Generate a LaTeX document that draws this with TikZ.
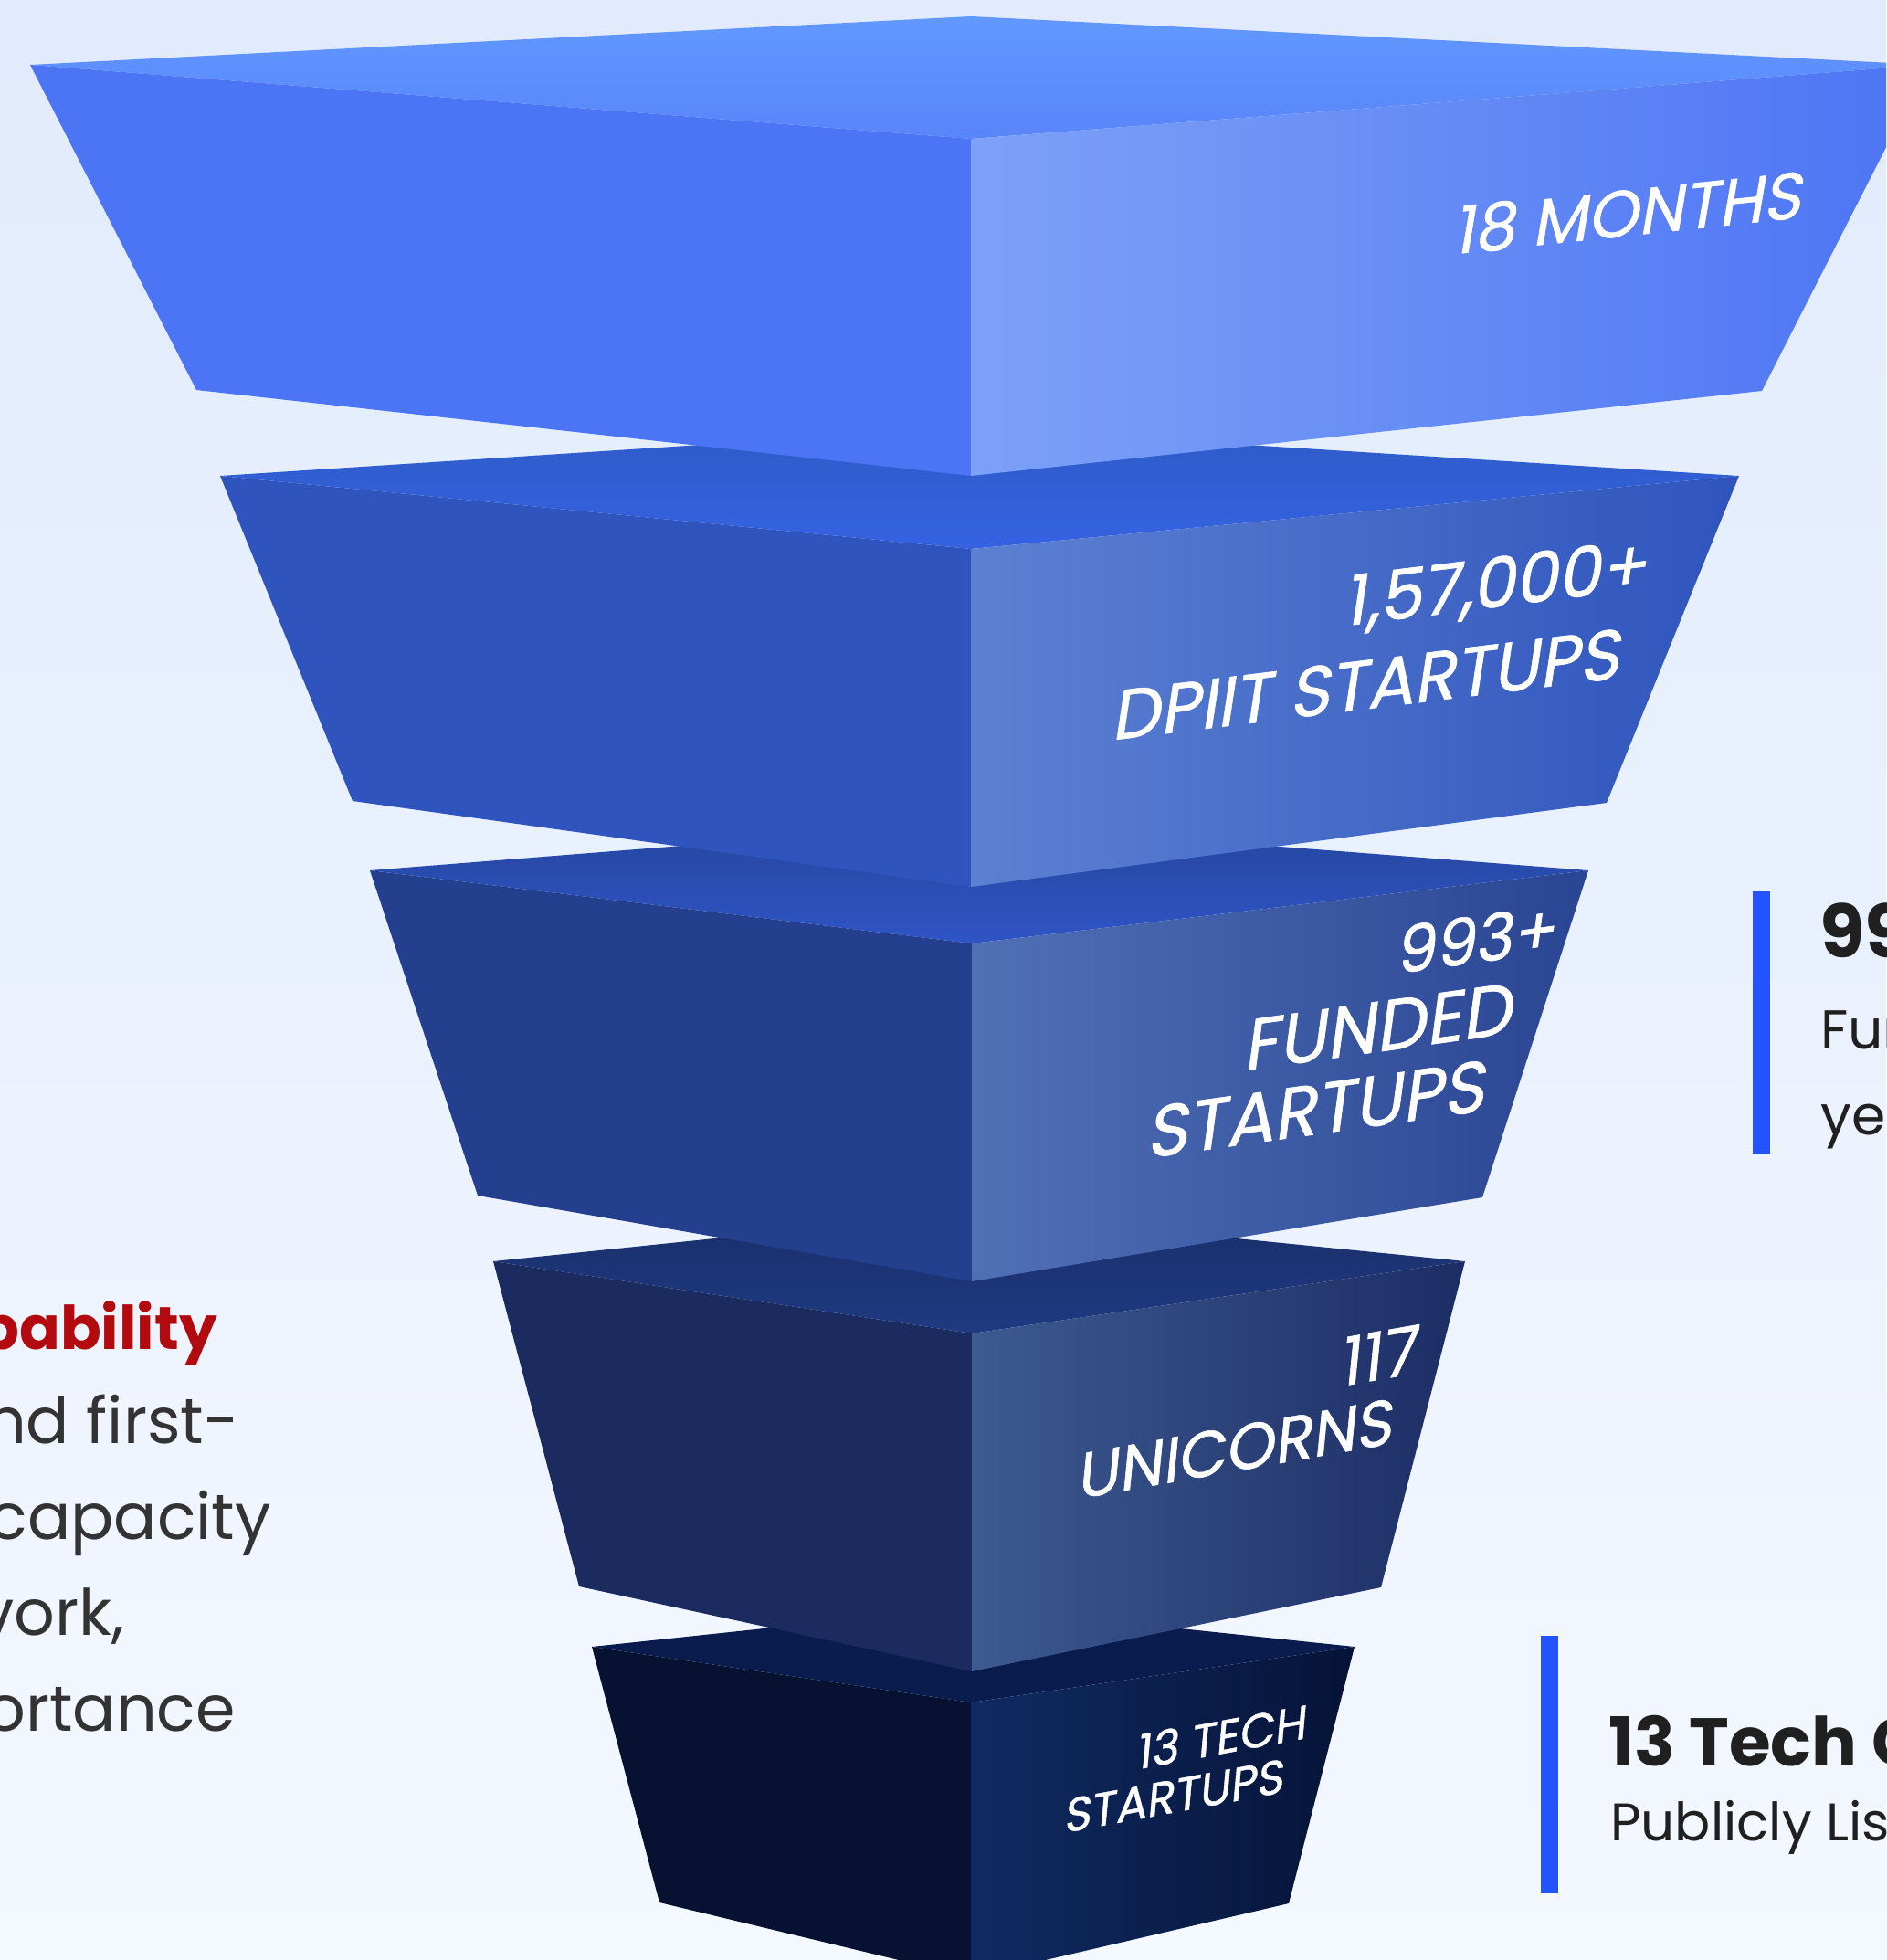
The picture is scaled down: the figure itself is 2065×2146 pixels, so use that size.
\documentclass[tikz,border=0pt]{standalone}
\usepackage{fontspec}
\setmainfont{Poppins}
\newfontfamily\labelfont[FakeSlant=0.28,FakeBold=0.8]{Poppins}
\usepackage{tikz}

\definecolor{bgtop}{HTML}{E1EBFD}
\definecolor{bgbot}{HTML}{F4F8FF}
\definecolor{oneTa}{HTML}{6198FF}
\definecolor{oneTb}{HTML}{5985FA}
\definecolor{oneL}{HTML}{4B75F5}
\definecolor{oneRa}{HTML}{7DA1F7}
\definecolor{oneRb}{HTML}{4C74F4}
\definecolor{twoTa}{HTML}{2D5CC7}
\definecolor{twoTb}{HTML}{3662E2}
\definecolor{twoL}{HTML}{2F54BD}
\definecolor{twoRa}{HTML}{5C81D2}
\definecolor{twoRb}{HTML}{2F54BD}
\definecolor{thrTa}{HTML}{24469E}
\definecolor{thrTb}{HTML}{2F55C6}
\definecolor{thrL}{HTML}{233F8E}
\definecolor{thrRa}{HTML}{5070B6}
\definecolor{thrRb}{HTML}{2A4593}
\definecolor{fouTa}{HTML}{1A2F6A}
\definecolor{fouTb}{HTML}{1F3A82}
\definecolor{fouL}{HTML}{1B2B60}
\definecolor{fouRa}{HTML}{3D5A91}
\definecolor{fouRb}{HTML}{1C2D64}
\definecolor{fivT}{HTML}{0A1C4E}
\definecolor{fivL}{HTML}{071232}
\definecolor{fivRa}{HTML}{102B63}
\definecolor{fivRb}{HTML}{061337}
\definecolor{barblue}{HTML}{2352FF}
\definecolor{capred}{HTML}{B20A0E}
\definecolor{inkgray}{HTML}{333333}
\definecolor{inkdark}{HTML}{202020}

\newcommand{\pxsize}[1]{\fontsize{#1pt}{#1pt}\selectfont}

\tikzset{
  funlabel/.style={text=white, inner sep=0pt},
  sidetext/.style={anchor=base west, inner sep=0pt, text=inkdark},
  lefttext/.style={anchor=base east, inner sep=0pt, text=inkgray}
}

\begin{document}
\begin{tikzpicture}[x=1pt,y=1pt,yscale=-1,xscale=1]
\useasboundingbox (0,0) rectangle (2065,2146);
\clip (0,0) rectangle (2065,2146);

%Shape: Background
\shade [top color=bgtop, bottom color=bgbot] (0,0) rectangle (2065,2146);

%Shape: Layer 5 top
\fill [fivT] (1063,1759) -- (648,1803) -- (1063,1864) -- (1483,1803) -- cycle ;
%Shape: Layer 5 left
\fill [fivL] (648,1803) -- (1063,1864) -- (1063,2165) -- (722,2083) -- cycle ;
%Shape: Layer 5 right
\shade [left color=fivRa, right color=fivRb] (1063,1864) -- (1483,1803) -- (1411,2084) -- (1063,2165) -- cycle ;

%Shape: Layer 4 top
\shade [top color=fouTa, bottom color=fouTb] (1064,1327) -- (540,1381) -- (1064,1460) -- (1604,1381) -- cycle ;
%Shape: Layer 4 left
\fill [fouL] (540,1381) -- (1064,1460) -- (1064,1830) -- (634,1737) -- cycle ;
%Shape: Layer 4 right
\shade [left color=fouRa, right color=fouRb] (1064,1460) -- (1604,1381) -- (1512,1738) -- (1064,1830) -- cycle ;

%Shape: Layer 3 top
\shade [top color=thrTa, bottom color=thrTb] (1064,901) -- (405,953) -- (1064,1033) -- (1739,953) -- cycle ;
%Shape: Layer 3 left
\fill [thrL] (405,953) -- (1064,1033) -- (1064,1403) -- (523,1309) -- cycle ;
%Shape: Layer 3 right
\shade [left color=thrRa, right color=thrRb] (1064,1033) -- (1739,953) -- (1623,1311) -- (1064,1403) -- cycle ;

%Shape: Layer 2 top
\shade [top color=twoTa, bottom color=twoTb] (1063,468) -- (241,521) -- (1063,601) -- (1904,521) -- cycle ;
%Shape: Layer 2 left
\fill [twoL] (241,521) -- (1063,601) -- (1063,971) -- (386,877) -- cycle ;
%Shape: Layer 2 right
\shade [left color=twoRa, right color=twoRb] (1063,601) -- (1904,521) -- (1759,879) -- (1063,971) -- cycle ;

%Shape: Layer 1 top
\shade [top color=oneTa, bottom color=oneTb] (1063,18) -- (33,71) -- (1063,152) -- (2111,71) -- cycle ;
%Shape: Layer 1 left
\fill [oneL] (33,71) -- (1063,152) -- (1063,521) -- (215,427) -- cycle ;
%Shape: Layer 1 right
\shade [left color=oneRa, right color=oneRb] (1063,152) -- (2111,71) -- (1929,428) -- (1063,521) -- cycle ;

% Text Node
\node [funlabel, rotate=6, font=\labelfont\pxsize{71}] (months) at (1779,233) {18 MONTHS};
% Text Node
\node [funlabel, rotate=7, font=\labelfont\pxsize{75}] (dpiitnum) at (1635,643) {1,57,000+};
\node [funlabel, rotate=7, font=\labelfont\pxsize{76}] (dpiit) at (1492,750) {DPIIT STARTUPS};
% Text Node
\node [funlabel, rotate=8, font=\labelfont\pxsize{70}] (fundnum) at (1612,1029) {993+};
\node [funlabel, rotate=8, font=\labelfont\pxsize{78}] (funded) at (1505,1125) {FUNDED};
\node [funlabel, rotate=8, font=\labelfont\pxsize{78}] (fundst) at (1437,1215) {STARTUPS};
% Text Node
\node [funlabel, rotate=10, font=\labelfont\pxsize{72}] (uninum) at (1505,1485) {117};
\node [funlabel, rotate=10, font=\labelfont\pxsize{69}] (unicorns) at (1348,1587) {UNICORNS};
% Text Node
\node [funlabel, rotate=10.5, font=\labelfont\pxsize{51}] (tech) at (1334,1902) {13 TECH};
\node [funlabel, rotate=10.5, font=\labelfont\pxsize{51}] (techst) at (1282,1967) {STARTUPS};

%Shape: Bar upper
\fill [barblue] (1919,976) rectangle (1938,1263) ;
%Shape: Bar lower
\fill [barblue] (1687,1791) rectangle (1706,2073) ;

% Text Node
\node [sidetext, font=\bfseries\pxsize{80}] (fundstat) at (1992,1048) {993+};
\node [sidetext, font=\pxsize{60}] (fundline) at (1993,1148) {Fund};
\node [sidetext, font=\pxsize{60}] (yearline) at (1993,1242) {year};
% Text Node
\node [sidetext, font=\bfseries\pxsize{74}] (techstat) at (1761,1933) {13 Tech C};
\node [sidetext, font=\pxsize{58}] (listline) at (1763,2015) {Publicly List};

% Text Node
\node [lefttext, text=capred, font=\bfseries\pxsize{66}] (capab) at (238,1477) {pability};
\node [lefttext, font=\pxsize{70}] (firstl) at (262,1580) {nd first-};
\node [lefttext, font=\pxsize{70}] (capac) at (297,1685) {capacity};
\node [lefttext, font=\pxsize{70}] (workl) at (137,1790) {vork,};
\node [lefttext, font=\pxsize{70}] (importl) at (258,1895) {ortance};

\end{tikzpicture}
\end{document}
